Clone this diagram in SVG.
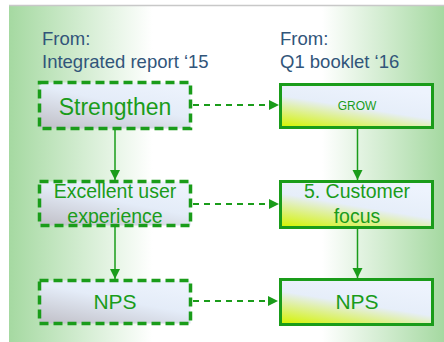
<svg xmlns="http://www.w3.org/2000/svg" width="444" height="342" viewBox="0 0 444 342">
<defs>
<linearGradient id="bg" x1="0" y1="0" x2="1" y2="0">
<stop offset="0" stop-color="#a5d9a1"/>
<stop offset="0.33" stop-color="#ffffff"/>
<stop offset="0.72" stop-color="#ffffff"/>
<stop offset="1" stop-color="#a5d9a1"/>
</linearGradient>
<linearGradient id="lf" x1="0.15" y1="1" x2="0.85" y2="0">
<stop offset="0" stop-color="#c4c4cc"/>
<stop offset="0.55" stop-color="#e4ecf8"/>
<stop offset="1" stop-color="#edf3fd"/>
</linearGradient>
<linearGradient id="rf" x1="0.05" y1="1" x2="0.6" y2="0">
<stop offset="0" stop-color="#d4f400"/>
<stop offset="0.55" stop-color="#e6eef9"/>
<stop offset="1" stop-color="#edf3fd"/>
</linearGradient>
<marker id="ah" viewBox="0 0 10 10" refX="10" refY="5" markerWidth="10" markerHeight="10" markerUnits="userSpaceOnUse" orient="auto">
<path d="M0,0 L10,5 L0,10 Z" fill="#1a9c1a"/>
</marker>
<marker id="av" viewBox="0 0 10 10" refX="10" refY="5" markerWidth="10" markerHeight="11" markerUnits="userSpaceOnUse" orient="auto">
<path d="M0,0 L10,5 L0,10 Z" fill="#1a9c1a"/>
</marker>
</defs>
<style>
.hdr{font-family:"Liberation Sans",Arial,sans-serif;font-size:18.5px;fill:#31557a}
.lb{fill:url(#lf);stroke:#1a9c1a;stroke-width:3.5;stroke-dasharray:9 5}
.rb{fill:url(#rf);stroke:#1a9c1a;stroke-width:3}
.t{font-family:"Liberation Sans",Arial,sans-serif;fill:#1a9c1a;text-anchor:middle}
.vl{stroke:#1a9c1a;stroke-width:1.5;fill:none}
.hl{stroke:#1a9c1a;stroke-width:2;stroke-dasharray:6 5;fill:none}
</style>
<rect x="9" y="6" width="435" height="336" fill="url(#bg)"/>
<line x1="9" y1="5.5" x2="444" y2="5.5" stroke="#c8c8c8" stroke-width="1.5"/>
<text class="hdr" x="42" y="45">From:</text>
<text class="hdr" x="42" y="68">Integrated report ‘15</text>
<text class="hdr" x="280" y="45">From:</text>
<text class="hdr" x="280" y="68">Q1 booklet ‘16</text>
<g id="connectors">
<line class="vl" x1="115" y1="130" x2="115" y2="180" marker-end="url(#av)"/>
<line class="vl" x1="115" y1="227" x2="115" y2="279" marker-end="url(#av)"/>
<line class="vl" x1="357.5" y1="129" x2="357.5" y2="180" marker-end="url(#av)"/>
<line class="vl" x1="357.5" y1="229" x2="357.5" y2="278" marker-end="url(#av)"/>
<line class="hl" x1="193" y1="105" x2="279" y2="105" marker-end="url(#ah)"/>
<line class="hl" x1="193" y1="204" x2="279" y2="204" marker-end="url(#ah)"/>
<line class="hl" x1="193" y1="301" x2="278" y2="301" marker-end="url(#ah)"/>
</g>
<g id="strengthen">
<rect class="lb" x="39.5" y="82.5" width="151" height="46"/>
<text class="t" x="115" y="115" font-size="23">Strengthen</text>
</g>
<g id="excellent">
<rect class="lb" x="39.5" y="181.5" width="151" height="44"/>
<text class="t" x="115" y="198" font-size="19.5">Excellent user</text>
<text class="t" x="115" y="223" font-size="19.5">experience</text>
</g>
<g id="nps-left">
<rect class="lb" x="39.5" y="280.5" width="151" height="43"/>
<text class="t" x="115" y="309" font-size="21">NPS</text>
</g>
<g id="grow">
<rect class="rb" x="280.5" y="84.5" width="152" height="43"/>
<text class="t" x="357" y="110" font-size="12">GROW</text>
</g>
<g id="customer">
<rect class="rb" x="280.5" y="181.5" width="152" height="46"/>
<text class="t" x="357" y="198" font-size="19.5">5. Customer</text>
<text class="t" x="357" y="223" font-size="19.5">focus</text>
</g>
<g id="nps-right">
<rect class="rb" x="280.5" y="279.5" width="152" height="45"/>
<text class="t" x="357" y="309" font-size="21">NPS</text>
</g>
</svg>
